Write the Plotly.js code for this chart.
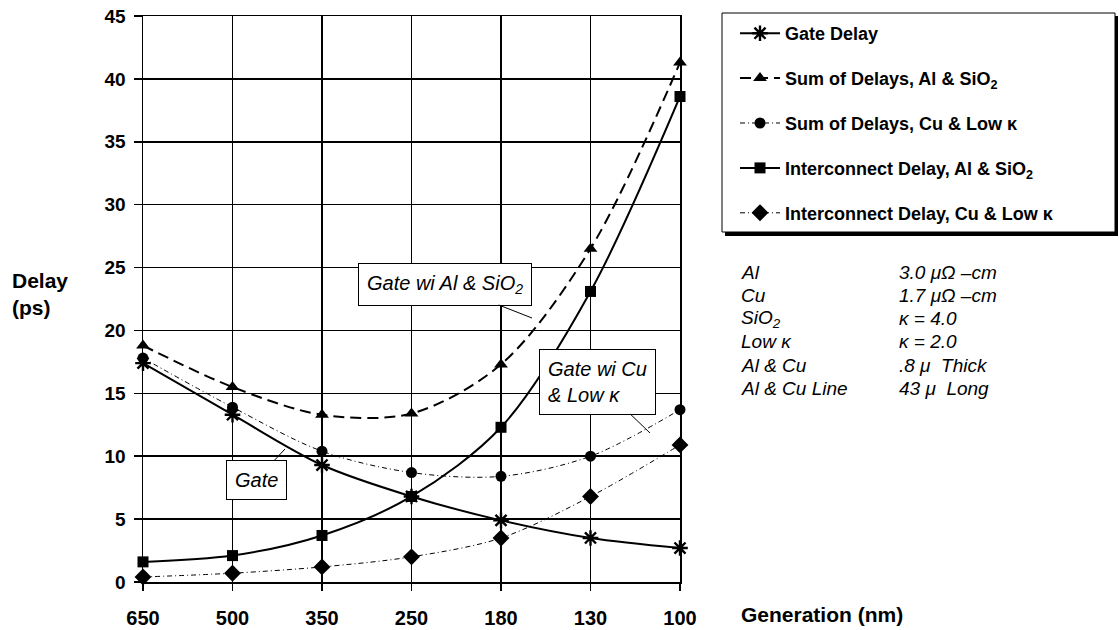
<!DOCTYPE html>
<html>
<head>
<meta charset="utf-8">
<script src="https://cdn.plot.ly/plotly-3.0.1.min.js"></script>
<style>html,body{margin:0;padding:0;background:#fff;}#chart{width:1119px;height:630px;}</style>
</head>
<body>
<div id="chart"></div>
<script>
// ---- data ----
const generations = ['650', '500', '350', '250', '180', '130', '100'];
const gateDelay = [17.4, 13.3, 9.3, 6.8, 4.9, 3.5, 2.7];
const sumAlSiO2 = [18.8, 15.5, 13.3, 13.4, 17.3, 26.5, 41.3];
const sumCuLowK = [17.8, 13.9, 10.4, 8.7, 8.4, 10.0, 13.7];
const interAlSiO2 = [1.6, 2.1, 3.7, 6.8, 12.3, 23.1, 38.6];
const interCuLowK = [0.4, 0.7, 1.2, 2.0, 3.5, 6.8, 10.9];
const seriesNames = ['Gate Delay', 'Sum of Delays, Al & SiO<sub>2</sub>', 'Sum of Delays, Cu & Low κ',
  'Interconnect Delay, Al & SiO<sub>2</sub>', 'Interconnect Delay, Cu & Low κ'];
const yTicks = [0, 5, 10, 15, 20, 25, 30, 35, 40, 45];
const noteLabels = ['Al', 'Cu', 'SiO<sub>2</sub>', 'Low κ', 'Al & Cu', 'Al & Cu Line'];
const noteValues = ['3.0 μΩ –cm', '1.7 μΩ –cm', 'κ = 4.0', 'κ = 2.0', '.8 μ  Thick', '43 μ  Long'];

// ---- layout helpers (pixel -> paper) ----
const L = 143, R = 680, T = 16, B = 582;
const px = v => (v - L) / (R - L);
const py = v => (B - v) / (B - T);
const FONT = 'Liberation Sans, Arial, sans-serif';

function tr(y, name, symbol, msize, lw, dash, i) {
  return {
    x: generations, y: y, name: name, type: 'scatter', mode: 'lines+markers',
    line: {color: '#000', width: lw, dash: dash, shape: 'spline', smoothing: 0.9},
    marker: {symbol: symbol, size: msize, color: '#000',
      line: {color: '#000', width: symbol === 'asterisk-open' ? 2.4 : 0}},
    cliponaxis: false, legendgroup: 'g' + i, legendrank: i + 1
  };
}

const data = [
  tr(interCuLowK, seriesNames[4], 'diamond', 13, 1, '5px,3px,1px,3px', 4),
  tr(sumCuLowK, seriesNames[2], 'circle', 11, 1, '5px,3px,1px,3px', 2),
  tr(interAlSiO2, seriesNames[3], 'square', 11, 2, 'solid', 3),
  tr(sumAlSiO2, seriesNames[1], 'triangle-up', 12, 2, '11px,6px', 1),
  tr(gateDelay, seriesNames[0], 'asterisk-open', 13, 2, 'solid', 0)
];

const annotations = [];
annotations.push({xref: 'paper', yref: 'paper', x: px(10), y: py(294), xanchor: 'left', yanchor: 'middle',
  text: '<b>Delay<br>(ps)</b>', showarrow: false, align: 'left', font: {family: FONT, size: 21, color: '#000'}});
annotations.push({xref: 'paper', yref: 'paper', x: px(739), y: py(614), xanchor: 'left', yanchor: 'middle',
  text: '<b>Generation (nm)</b>', showarrow: false, font: {family: FONT, size: 21, color: '#000'}});
noteLabels.forEach((t, i) => {
  const yy = 272 + i * 23.3;
  annotations.push({xref: 'paper', yref: 'paper', x: px(739), y: py(yy), xanchor: 'left', yanchor: 'middle',
    text: '<i>' + t + '</i>', showarrow: false, font: {family: FONT, size: 19, color: '#000'}});
  annotations.push({xref: 'paper', yref: 'paper', x: px(897), y: py(yy), xanchor: 'left', yanchor: 'middle',
    text: '<i>' + noteValues[i] + '</i>', showarrow: false, font: {family: FONT, size: 19, color: '#000'}});
});
// callouts
const callouts = [
  {text: '<i>Gate wi Al & SiO<sub>2</sub></i>', tip: [532, 318], ctr: [445, 284]},
  {text: '<i>Gate wi Cu<br>& Low κ</i>', tip: [650, 433], ctr: [597, 382]},
  {text: '<i>Gate</i>', tip: [285, 449], ctr: [256, 480]}
];
callouts.forEach(c => {
  annotations.push({xref: 'paper', yref: 'paper', x: px(c.tip[0]), y: py(c.tip[1]),
    ax: c.ctr[0] - c.tip[0], ay: c.ctr[1] - c.tip[1], axref: 'pixel', ayref: 'pixel',
    text: c.text, showarrow: true, arrowhead: 0, arrowwidth: 1, arrowcolor: '#000',
    bgcolor: '#fff', bordercolor: '#000', borderwidth: 1, borderpad: 8, align: 'left',
    font: {family: FONT, size: 20, color: '#000'}});
});

const shapes = [
  {type: 'rect', xref: 'paper', yref: 'paper', x0: px(725), x1: px(1118), y0: py(16), y1: py(236),
    fillcolor: '#000', line: {width: 0}, layer: 'above'},
  {type: 'rect', xref: 'paper', yref: 'paper', x0: px(722), x1: px(1115), y0: py(13), y1: py(232),
    fillcolor: '#fff', line: {color: '#000', width: 1}, layer: 'above'}
];

const layout = {
  width: 1119, height: 630,
  margin: {l: L, r: 1119 - R, t: T, b: 630 - B, pad: 0},
  paper_bgcolor: '#fff', plot_bgcolor: '#fff',
  font: {family: FONT, color: '#000'},
  showlegend: true,
  legend: {x: px(735), y: py(15), xanchor: 'left', yanchor: 'top', bgcolor: 'rgba(0,0,0,0)',
    borderwidth: 0, traceorder: 'grouped', tracegroupgap: 18.5, itemwidth: 40,
    font: {family: FONT, size: 18, color: '#000', weight: 700}},
  xaxis: {type: 'category', range: [0, 6], showgrid: true, gridcolor: '#000', gridwidth: 1.5,
    showline: true, linecolor: '#000', linewidth: 1.5, mirror: true, zeroline: false,
    ticks: 'outside', ticklen: 7, tickcolor: '#000', tickwidth: 1.5, ticklabelstandoff: 10,
    tickfont: {family: FONT, size: 20, color: '#000', weight: 700}, fixedrange: true},
  yaxis: {range: [0, 45], tickvals: yTicks, showgrid: true, gridcolor: '#000', gridwidth: 1.5,
    showline: true, linecolor: '#000', linewidth: 1.5, mirror: true, zeroline: false,
    ticks: 'outside', ticklen: 8, tickcolor: '#000', tickwidth: 1.5, ticklabelstandoff: 4,
    tickfont: {family: FONT, size: 19, color: '#000', weight: 700}, fixedrange: true},
  annotations: annotations,
  shapes: shapes
};

Plotly.newPlot('chart', data, layout, {displayModeBar: false, staticPlot: true});
</script>
</body>
</html>
